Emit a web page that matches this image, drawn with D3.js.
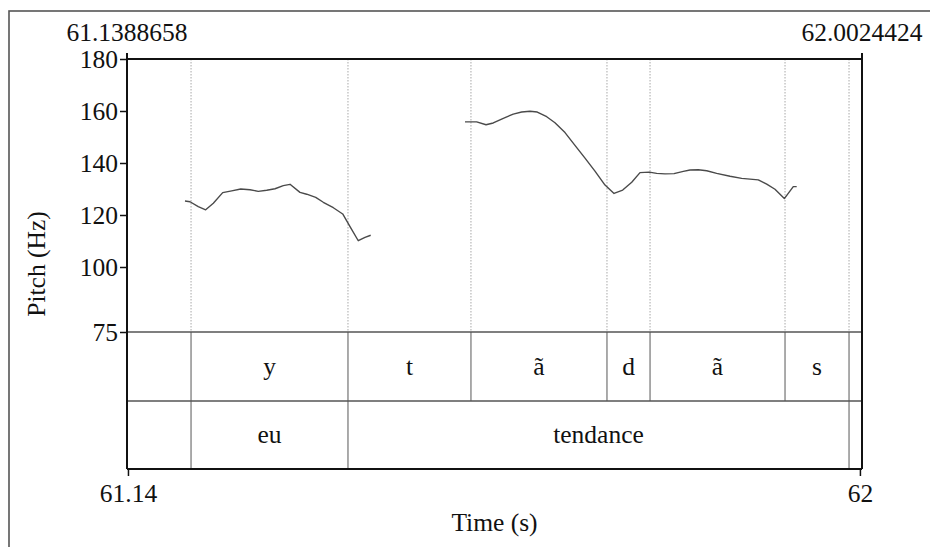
<!DOCTYPE html>
<html>
<head>
<meta charset="utf-8">
<script src="https://cdn.jsdelivr.net/npm/d3@7"></script>
<style>
  html, body { margin: 0; padding: 0; background: #fff; }
  svg { display: block; }
  svg text { font-family: 'Liberation Serif', 'DejaVu Serif', 'Noto Serif', serif !important; fill: #111; }
</style>
</head>
<body>
<svg id="chart" width="930" height="547"></svg>
<script>
// ---------- data ----------
const timeDomain = [61.1388658, 62.0024424];
const topLabels = ["61.1388658", "62.0024424"];
const pitchDomain = [75, 180];
const yTicks = [75, 100, 120, 140, 160, 180];
const xTicks = [61.14, 62];
const xTickLabels = ["61.14", "62"];

// pitch contour, segment 1 (time s, Hz)
const seg1Times = [61.2070, 61.2129, 61.2226, 61.2313, 61.2403, 61.2513, 61.2619, 61.2725,
  61.2834, 61.2931, 61.3030, 61.3128, 61.3225, 61.3304, 61.3421, 61.3500, 61.3606, 61.3695,
  61.3813, 61.3923, 61.4009, 61.4106, 61.4185, 61.4252];
const seg1Hz = [125.4, 125.1, 123.2, 122.0, 124.5, 128.6, 129.3, 130.0,
  129.7, 129.1, 129.5, 130.1, 131.3, 131.8, 128.7, 128.0, 126.8, 124.9,
  122.8, 120.4, 115.5, 110.1, 111.4, 112.2];

// pitch contour, segment 2
const seg2Times = [61.5360, 61.5497, 61.5607, 61.5692, 61.5810, 61.5927, 61.6026, 61.6124,
  61.6209, 61.6320, 61.6417, 61.6535, 61.6652, 61.6770, 61.6887, 61.7005, 61.7111, 61.7213,
  61.7319, 61.7416, 61.7525, 61.7612, 61.7710, 61.7816, 61.7925, 61.8004, 61.8101, 61.8200,
  61.8317, 61.8474, 61.8611, 61.8806, 61.8905, 61.9002, 61.9112, 61.9217, 61.9257];
const seg2Hz = [155.8, 155.8, 154.7, 155.4, 157.2, 158.8, 159.6, 159.9,
  159.6, 157.8, 155.5, 151.7, 146.8, 141.9, 136.9, 131.5, 128.3, 129.6,
  132.6, 136.3, 136.5, 136.0, 135.8, 135.9, 136.8, 137.3, 137.4, 137.0,
  136.0, 134.9, 134.1, 133.5, 131.9, 129.9, 126.3, 130.9, 130.9];

// TextGrid tier 1 (phones)
const phoneBounds = [61.1388658, 61.2141, 61.3985, 61.5430, 61.7028, 61.7534, 61.9120, 61.9872, 62.0024424];
const phoneLabels = ["", "y", "t", "ã", "d", "ã", "s", ""];
// TextGrid tier 2 (words)
const wordBounds = [61.1388658, 61.2141, 61.3985, 61.9872, 62.0024424];
const wordLabels = ["", "eu", "tendance", ""];

// ---------- layout ----------
const L = 127, R = 862, T = 59, P = 332, M = 401, B = 469;
const FS = 25.5;
const FF = "'Liberation Serif', 'DejaVu Serif', 'Noto Serif', serif";

const svg = d3.select("#chart");
const x = d3.scaleLinear().domain(timeDomain).range([L, R]);
const y = d3.scaleLinear().domain(pitchDomain).range([P, T]);

// outer border (cropped at right/bottom)
svg.append("rect").attr("x", 9).attr("y", 11).attr("width", 940).attr("height", 560)
  .attr("fill", "none").attr("stroke", "#555").attr("stroke-width", 1.6);

// inner boundaries (all, from both tiers)
const allBounds = Array.from(new Set(phoneBounds.slice(1, -1).concat(wordBounds.slice(1, -1)))).sort();
// dotted in pitch area
svg.append("g").selectAll("line").data(allBounds).join("line")
  .attr("x1", d => x(d)).attr("x2", d => x(d)).attr("y1", T).attr("y2", P)
  .attr("stroke", "#a8a8a8").attr("stroke-width", 1).attr("stroke-dasharray", "1.5,1.5");
// tier 1 boundaries
svg.append("g").selectAll("line").data(phoneBounds.slice(1, -1)).join("line")
  .attr("x1", d => x(d)).attr("x2", d => x(d)).attr("y1", P).attr("y2", M)
  .attr("stroke", "#666").attr("stroke-width", 1.1);
// tier 2 boundaries
svg.append("g").selectAll("line").data(wordBounds.slice(1, -1)).join("line")
  .attr("x1", d => x(d)).attr("x2", d => x(d)).attr("y1", M).attr("y2", B)
  .attr("stroke", "#666").attr("stroke-width", 1.1);

// tier horizontal lines
[P, M].forEach(yy => {
  svg.append("line").attr("x1", L).attr("x2", R).attr("y1", yy).attr("y2", yy)
    .attr("stroke", "#555").attr("stroke-width", 1.5);
});

// tier labels
const phoneIntervals = phoneLabels.map((lab, i) => ({ a: phoneBounds[i], b: phoneBounds[i + 1], lab }));
const wordIntervals = wordLabels.map((lab, i) => ({ a: wordBounds[i], b: wordBounds[i + 1], lab }));
svg.append("g").selectAll("text").data(phoneIntervals.filter(d => d.lab)).join("text")
  .attr("x", d => (x(d.a) + x(d.b)) / 2).attr("y", (P + M) / 2 + 8)
  .attr("text-anchor", "middle")
  .style("font-size", FS + "px").style("font-family", FF).text(d => d.lab);
svg.append("g").selectAll("text").data(wordIntervals.filter(d => d.lab)).join("text")
  .attr("x", d => (x(d.a) + x(d.b)) / 2).attr("y", (M + B) / 2 + 8)
  .attr("text-anchor", "middle")
  .style("font-size", FS + "px").style("font-family", FF).text(d => d.lab);

// pitch contour
const line = d3.line().x(d => x(d[0])).y(d => y(d[1]));
[[seg1Times, seg1Hz], [seg2Times, seg2Hz]].forEach(([ts, hz]) => {
  svg.append("path").datum(ts.map((t, i) => [t, hz[i]]))
    .attr("d", line).attr("fill", "none").attr("stroke", "#4a4a4a")
    .attr("stroke-width", 1.4).attr("stroke-linejoin", "round");
});

// frame
svg.append("line").attr("x1", L).attr("x2", R).attr("y1", T).attr("y2", T).attr("stroke", "#111").attr("stroke-width", 2);
svg.append("line").attr("x1", L).attr("x2", R).attr("y1", B).attr("y2", B).attr("stroke", "#111").attr("stroke-width", 2);
svg.append("line").attr("x1", L).attr("x2", L).attr("y1", T - 6).attr("y2", B).attr("stroke", "#111").attr("stroke-width", 2);
svg.append("line").attr("x1", R).attr("x2", R).attr("y1", T - 6).attr("y2", B).attr("stroke", "#111").attr("stroke-width", 2);

// y axis
const yAxis = svg.append("g").attr("transform", `translate(${L},0)`)
  .attr("font-family", null)
  .call(d3.axisLeft(y).tickValues(yTicks).tickSize(7).tickPadding(2).tickSizeOuter(0));
yAxis.attr("font-family", FF).attr("font-size", FS);
yAxis.select(".domain").remove();
yAxis.selectAll(".tick line").attr("stroke", "#111").attr("stroke-width", 1.5);
yAxis.selectAll(".tick text").style("font-size", FS + "px")
  .style("font-family", FF).attr("fill", "#111");

// x axis
const xAxis = svg.append("g").attr("transform", `translate(0,${B})`)
  .call(d3.axisBottom(x).tickValues(xTicks).tickFormat((d, i) => xTickLabels[i]).tickSize(7).tickPadding(8));
xAxis.attr("font-family", FF).attr("font-size", FS);
xAxis.select(".domain").remove();
xAxis.selectAll(".tick line").attr("stroke", "#111").attr("stroke-width", 1.5);
xAxis.selectAll(".tick text").style("font-size", FS + "px")
  .style("font-family", FF).attr("fill", "#111");

// top labels
svg.append("g").selectAll("text").data(timeDomain).join("text")
  .attr("x", d => x(d)).attr("y", 41).attr("text-anchor", "middle")
  .style("font-size", FS + "px").style("font-family", FF).text((d, i) => topLabels[i]);

// axis titles
svg.append("text").attr("x", (L + R) / 2).attr("y", 531).attr("text-anchor", "middle")
  .style("font-size", FS + "px").style("font-family", FF).text("Time (s)");
svg.append("text").attr("transform", `translate(45,${(T + B) / 2}) rotate(-90)`)
  .attr("text-anchor", "middle").style("font-size", FS + "px").style("font-family", FF).text("Pitch (Hz)");
</script>
</body>
</html>
